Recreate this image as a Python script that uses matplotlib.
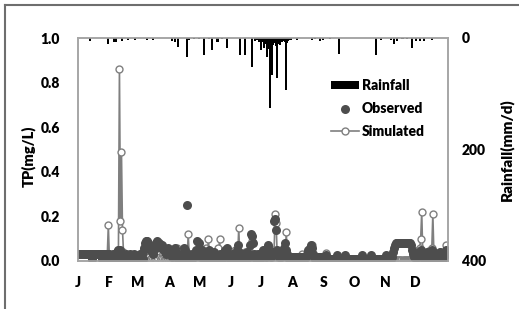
import numpy as np
import matplotlib
matplotlib.use('Agg')
import matplotlib.pyplot as plt
from matplotlib.lines import Line2D

plt.rcParams['font.family'] = ['Lato', 'DejaVu Sans']
plt.rcParams['font.weight'] = 'heavy'

# month labels placed at first day of each month
month_labels = ['J', 'F', 'M', 'A', 'M', 'J', 'J', 'A', 'S', 'O', 'N', 'D']
month_start = [0, 31, 59, 90, 120, 151, 181, 212, 243, 273, 304, 334]

# simulated TP (mg/L), one value per day, month by month
sim_jan = [0.03, 0.03, 0.03, 0.03, 0.03, 0.03, 0.03, 0.03, 0.03, 0.03,
           0.03, 0.03, 0.03, 0.03, 0.03, 0.03, 0.03, 0.03, 0.03, 0.03,
           0.03, 0.03, 0.03, 0.03, 0.03, 0.03, 0.03, 0.03, 0.03, 0.03, 0.16]
sim_feb = [0.02, 0.01, 0.01, 0.02, 0.01, 0.01, 0.02, 0.03, 0.04, 0.05,
           0.86, 0.18, 0.49, 0.14, 0.04, 0.03, 0.02, 0.01, 0.02, 0.01,
           0.01, 0.02, 0.01, 0.01, 0.02, 0.01, 0.01, 0.02]
sim_mar = [0.01, 0.02, 0.01, 0.01, 0.02, 0.03, 0.02, 0.01, 0.02, 0.04,
           0.03, 0.02, 0.01, 0.01, 0.02, 0.03, 0.02, 0.01, 0.01, 0.02,
           0.04, 0.03, 0.02, 0.01, 0.02, 0.03, 0.02, 0.01, 0.01, 0.02, 0.01]
sim_apr = [0.02, 0.01, 0.01, 0.02, 0.03, 0.02, 0.01, 0.02, 0.06, 0.02,
           0.01, 0.01, 0.02, 0.01, 0.01, 0.02, 0.01, 0.02, 0.01, 0.12,
           0.03, 0.01, 0.02, 0.01, 0.01, 0.02, 0.01, 0.01, 0.02, 0.01]
sim_may = [0.01, 0.02, 0.01, 0.01, 0.02, 0.01, 0.02, 0.06, 0.01, 0.10,
           0.02, 0.01, 0.02, 0.01, 0.01, 0.03, 0.02, 0.01, 0.06, 0.01,
           0.10, 0.02, 0.01, 0.01, 0.02, 0.01, 0.05, 0.02, 0.01, 0.01, 0.02]
sim_jun = [0.01, 0.02, 0.01, 0.02, 0.05, 0.02, 0.01, 0.02, 0.15, 0.02,
           0.01, 0.01, 0.02, 0.01, 0.04, 0.02, 0.01, 0.01, 0.02, 0.01,
           0.02, 0.09, 0.02, 0.01, 0.01, 0.03, 0.02, 0.01, 0.01, 0.02]
sim_jul = [0.02, 0.01, 0.01, 0.02, 0.03, 0.01, 0.02, 0.04, 0.06, 0.02,
           0.01, 0.02, 0.03, 0.05, 0.21, 0.17, 0.03, 0.02, 0.01, 0.04,
           0.02, 0.01, 0.01, 0.02, 0.02, 0.13, 0.02, 0.01, 0.01, 0.02, 0.01]
sim_aug = [0.01, 0.01, 0.02, 0.01, 0.01, 0.02, 0.01, 0.01, 0.02, 0.01,
           0.03, 0.01, 0.01, 0.02, 0.01, 0.01, 0.02, 0.05, 0.01, 0.07,
           0.02, 0.01, 0.01, 0.01, 0.02, 0.01, 0.01, 0.01, 0.02, 0.01, 0.01]
sim_sep = [0.01, 0.01, 0.035, 0.01, 0.005, 0.005, 0.01, 0.005, 0.005, 0.005,
           0.005, 0.005, 0.01, 0.005, 0.005, 0.005, 0.005, 0.005, 0.005, 0.005,
           0.005, 0.005, 0.005, 0.005, 0.005, 0.005, 0.01, 0.005, 0.005, 0.005]
sim_oct = [0.005, 0.005, 0.005, 0.005, 0.005, 0.005, 0.005, 0.005, 0.005, 0.005,
           0.005, 0.005, 0.005, 0.005, 0.005, 0.005, 0.005, 0.005, 0.005, 0.005,
           0.005, 0.005, 0.005, 0.005, 0.005, 0.005, 0.005, 0.005, 0.005, 0.005, 0.005]
sim_nov = [0.005, 0.005, 0.005, 0.005, 0.005, 0.005, 0.005, 0.005, 0.005, 0.005,
           0.005, 0.005, 0.005, 0.005, 0.005, 0.005, 0.005, 0.005, 0.005, 0.005,
           0.005, 0.005, 0.005, 0.005, 0.005, 0.005, 0.01, 0.01, 0.02, 0.01]
sim_dec = [0.02, 0.01, 0.05, 0.02, 0.06, 0.10, 0.22, 0.04, 0.02, 0.01,
           0.01, 0.03, 0.02, 0.01, 0.05, 0.02, 0.06, 0.21, 0.04, 0.02,
           0.01, 0.03, 0.02, 0.01, 0.04, 0.02, 0.01, 0.03, 0.02, 0.04, 0.07]

# observed TP (mg/L), one value per day
obs_jan = [0.03, 0.03, 0.03, 0.03, 0.03, 0.03, 0.03, 0.03, 0.03, 0.03,
           0.03, 0.03, 0.03, 0.03, 0.03, 0.03, 0.03, 0.03, 0.03, 0.03,
           0.03, 0.03, 0.03, 0.03, 0.03, 0.03, 0.03, 0.03, 0.03, 0.03, 0.03]
obs_feb = [0.03, 0.02, 0.01, 0.02, 0.03, 0.02, 0.01, 0.03, 0.04, 0.05,
           0.04, 0.05, 0.03, 0.02, 0.01, 0.02, 0.03, 0.02, 0.01, 0.02,
           0.03, 0.02, 0.01, 0.02, 0.03, 0.02, 0.01, 0.02]
obs_mar = [0.01, 0.02, 0.03, 0.02, 0.03, 0.04, 0.06, 0.08, 0.09, 0.09,
           0.08, 0.07, 0.06, 0.05, 0.04, 0.03, 0.05, 0.07, 0.08, 0.09,
           0.08, 0.08, 0.07, 0.06, 0.07, 0.06, 0.05, 0.04, 0.03, 0.05, 0.06]
obs_apr = [0.05, 0.04, 0.03, 0.02, 0.03, 0.05, 0.06, 0.04, 0.02, 0.01,
           0.02, 0.01, 0.02, 0.03, 0.02, 0.06, 0.05, 0.02, 0.25, 0.03,
           0.02, 0.01, 0.02, 0.03, 0.02, 0.02, 0.03, 0.05, 0.09, 0.04]
obs_may = [0.08, 0.03, 0.02, 0.05, 0.03, 0.02, 0.01, 0.02, 0.03, 0.04,
           0.05, 0.03, 0.02, 0.01, 0.02, 0.04, 0.03, 0.02, 0.01, 0.02,
           0.03, 0.02, 0.01, 0.02, 0.03, 0.05, 0.04, 0.06, 0.03, 0.02, 0.01]
obs_jun = [0.02, 0.03, 0.02, 0.01, 0.02, 0.03, 0.05, 0.07, 0.04, 0.02,
           0.01, 0.02, 0.03, 0.02, 0.01, 0.02, 0.04, 0.03, 0.02, 0.07,
           0.12, 0.11, 0.08, 0.03, 0.02, 0.01, 0.02, 0.03, 0.02, 0.01]
obs_jul = [0.02, 0.03, 0.05, 0.04, 0.03, 0.02, 0.04, 0.07, 0.05, 0.03,
           0.02, 0.03, 0.04, 0.18, 0.19, 0.14, 0.05, 0.03, 0.02, 0.03,
           0.02, 0.03, 0.04, 0.06, 0.08, 0.05, 0.03, 0.02, 0.01, 0.02, 0.02]
obs_aug = [0.02, 0.01, 0.02, 0.01, 0.02, 0.01, 0.02, 0.02, 0.01, 0.02,
           0.01, 0.02, 0.01, 0.02, 0.02, 0.03, 0.05, 0.06, 0.07, 0.06,
           0.03, 0.02, 0.01, 0.02, 0.01, 0.02, 0.01, 0.02, 0.01, 0.02, 0.02]
obs_sep = [0.02, 0.01, 0.025, 0.01, 0.01, 0.01, 0.01, 0.01, 0.01, 0.01,
           0.01, 0.01, 0.01, 0.025, 0.01, 0.01, 0.01, 0.01, 0.01, 0.01,
           0.01, 0.025, 0.01, 0.01, 0.01, 0.01, 0.01, 0.01, 0.01, 0.01]
obs_oct = [0.01, 0.01, 0.01, 0.01, 0.01, 0.01, 0.01, 0.01, 0.025, 0.01,
           0.01, 0.01, 0.01, 0.01, 0.01, 0.01, 0.01, 0.025, 0.01, 0.01,
           0.01, 0.01, 0.01, 0.01, 0.01, 0.01, 0.01, 0.01, 0.01, 0.01, 0.01]
obs_nov = [0.01, 0.025, 0.01, 0.01, 0.01, 0.01, 0.01, 0.02, 0.04, 0.06,
           0.07, 0.08, 0.08, 0.08, 0.08, 0.08, 0.08, 0.08, 0.08, 0.08,
           0.08, 0.08, 0.08, 0.08, 0.08, 0.07, 0.05, 0.03, 0.02, 0.03]
obs_dec = [0.02, 0.03, 0.02, 0.04, 0.03, 0.05, 0.04, 0.02, 0.01, 0.02,
           0.03, 0.04, 0.02, 0.01, 0.02, 0.03, 0.05, 0.04, 0.03, 0.02,
           0.01, 0.02, 0.03, 0.02, 0.04, 0.03, 0.02, 0.01, 0.02, 0.03, 0.05]

# a few extra observed samples sitting under the daily line
obs_extra_day = [14, 24, 30, 39, 49, 58, 64]
obs_extra_val = [0.01, 0.01, 0.005, 0.005, 0.005, 0.005, 0.01]

# daily rainfall (mm/d)
rain_day = [12, 30, 36, 38, 44, 49, 56, 68, 74, 93, 96, 99, 108, 110, 115, 120,
            125, 130, 133, 138, 142, 147, 160, 165, 172, 175, 177, 179, 181, 182,
            183, 184, 185, 186, 187, 188, 189, 190, 191, 192, 193, 194, 195, 196,
            197, 198, 199, 200, 201, 202, 203, 204, 205, 206, 207, 208, 209, 211,
            217, 231, 234, 239, 242, 249, 258, 295, 300, 310, 313, 316, 321, 325,
            330, 334, 338, 342, 350]
rain_mm = [5, 11, 7, 7, 5, 3, 3, 3, 3, 5, 7, 16, 34, 3, 2, 2,
           30, 2, 22, 7, 2, 18, 30, 30, 52, 5, 4, 8, 21, 8,
           6, 18, 10, 7, 34, 20, 9, 125, 30, 66, 12, 8, 9, 15,
           72, 10, 6, 12, 5, 7, 4, 6, 8, 93, 9, 5, 4, 3,
           3, 3, 2, 5, 4, 2, 28, 30, 3, 4, 10, 6, 2, 2,
           18, 6, 5, 5, 3]

sim = np.array(sim_jan + sim_feb + sim_mar + sim_apr + sim_may + sim_jun +
               sim_jul + sim_aug + sim_sep + sim_oct + sim_nov + sim_dec)
obs = np.array(obs_jan + obs_feb + obs_mar + obs_apr + obs_may + obs_jun +
               obs_jul + obs_aug + obs_sep + obs_oct + obs_nov + obs_dec)
days = np.arange(len(sim))

W, H = 519, 309
fig = plt.figure(figsize=(W / 100, H / 100), dpi=100)
ax = fig.add_axes([78 / W, 1 - 261 / H, 370 / W, 223 / H])

grey = '#a6a6a6'
ax.plot(days, sim, '-', color='#7f7f7f', lw=1.2, marker='o', ms=5,
        mfc='white', mec='#7f7f7f', mew=1.0, zorder=2, label='Simulated')
ax.plot(days, obs, 'o', color='#4d4d4d', ms=6.5, mew=0, zorder=3, label='Observed')
ax.plot(obs_extra_day, obs_extra_val, 'o', color='#4d4d4d', ms=6.5, mew=0, zorder=3)

ax.set_xlim(0, 366)
ax.set_ylim(0, 1.0)
ax.set_yticks(np.arange(0, 1.01, 0.2))
ax.set_yticklabels(['{:.1f}'.format(v) for v in np.arange(0, 1.01, 0.2)])
ax.set_xticks(month_start)
ax.set_xticklabels(month_labels)
ax.tick_params(axis='y', length=0, pad=13, labelsize=10)
ax.tick_params(axis='x', length=0, pad=11, labelsize=10)
for s in ax.spines.values():
    s.set_color(grey)
    s.set_linewidth(1.2)

# rainfall hangs from the top on an inverted right axis
ax2 = ax.twinx()
ax2.bar(rain_day, rain_mm, width=2.0, color='black', label='Rainfall')
ax2.set_ylim(400, 0)
ax2.set_yticks([0, 200, 400])
ax2.tick_params(axis='y', length=0, pad=10, labelsize=10)
for s in ax2.spines.values():
    s.set_color(grey)
    s.set_linewidth(1.2)

fig.text(28 / W, 1 - 156 / H, 'TP(mg/L)', rotation=90, ha='center', va='center',
         fontsize=10.5, fontweight='heavy')
fig.text(507 / W, 1 - 150 / H, 'Rainfall(mm/d)', rotation=90, ha='center', va='center',
         fontsize=11, fontweight='heavy')

h1, l1 = ax2.get_legend_handles_labels()
h2, l2 = ax.get_legend_handles_labels()
leg = ax2.legend([h1[0], h2[1], h2[0]], ['Rainfall', 'Observed', 'Simulated'],
                 loc='upper left', bbox_to_anchor=(0.685, 0.815), frameon=False,
                 fontsize=10, numpoints=1, handlelength=2.0, handleheight=0.5,
                 handletextpad=0.2, labelspacing=0.7, borderpad=0, borderaxespad=0)

# outer frame edges of the original picture
fig.add_artist(Line2D([5 / W, 5 / W], [0, 1 - 5 / H], transform=fig.transFigure,
                      color='#6e6e6e', lw=1.5))
fig.add_artist(Line2D([5 / W, 1], [1 - 5 / H, 1 - 5 / H], transform=fig.transFigure,
                      color='#6e6e6e', lw=1.5))

fig.savefig('out.png', dpi=100)
